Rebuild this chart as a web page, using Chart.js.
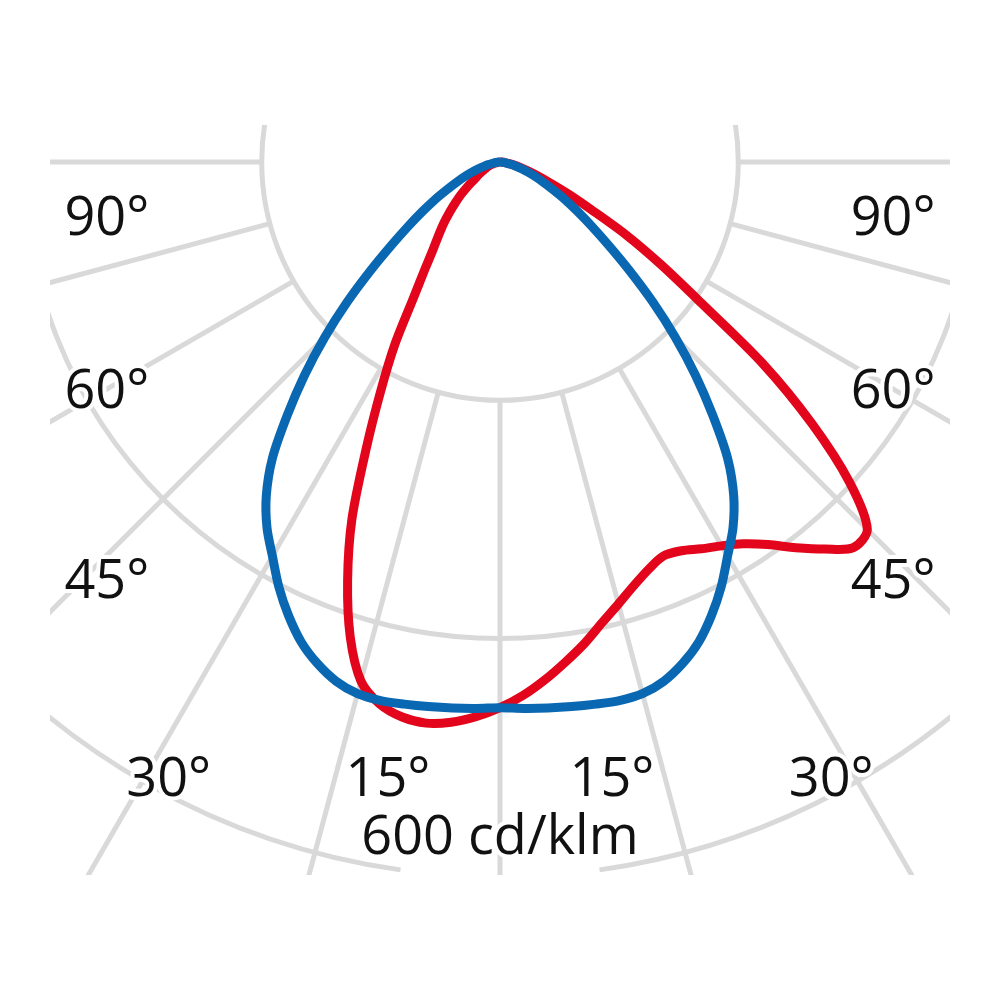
<!DOCTYPE html>
<html>
<head>
<meta charset="utf-8">
<script src="https://cdn.jsdelivr.net/npm/chart.js@4.4.0/dist/chart.umd.min.js"></script>
<style>
  html, body { margin: 0; padding: 0; background: #fff; }
  #wrap { width: 1000px; height: 1000px; }
</style>
</head>
<body>
<div id="wrap"><canvas id="ldc"></canvas></div>
<script>
// gamma angles (deg from nadir), negative = left half
const angles = [
  -90, -87.5, -85, -82.5, -80, -77.5, -75, -72.5, -70, -67.5, -65, -62.5,
  -60, -57.5, -55, -52.5, -50, -47.5, -45, -42.5, -40, -37.5, -35, -32.5,
  -30, -27.5, -25, -22.5, -20, -17.5, -15, -12.5, -10, -7.5, -5, -2.5,
  0, 2.5, 5, 7.5, 10, 12.5, 15, 17.5, 20, 22.5, 25, 27.5,
  30, 32.5, 35, 37.5, 40, 42.5, 45, 47.5, 50, 52.5, 55, 57.5,
  60, 62.5, 65, 67.5, 70, 72.5, 75, 77.5, 80, 82.5, 85, 87.5, 90
];

// cd/klm, symmetric plane (blue)
const bluePlane = [
  0, 1, 2, 4, 6, 10, 14, 19, 25, 32, 40, 50,
  63, 77, 94, 115, 142, 174, 208, 243, 278, 314, 342, 364,
  382, 402, 420, 436, 448, 457, 462, 463, 462, 461, 460, 459,
  458, 459, 460, 461, 462, 463, 462, 457, 448, 436, 420, 402,
  382, 364, 342, 314, 278, 243, 208, 174, 142, 115, 94, 77,
  63, 50, 40, 32, 25, 19, 14, 10, 6, 4, 2, 1, 0
];

// cd/klm, asymmetric plane (red)
const redPlane = [
  0, 0, 1, 2, 3, 5, 6, 8, 10, 12, 14, 17,
  20, 23, 28, 35, 43, 51, 60, 70, 80, 92, 110, 135,
  176, 217, 266, 325, 374, 418, 451, 466, 473, 475, 472, 466,
  458, 448, 436, 423, 410, 396, 384, 373, 364, 358, 360, 366,
  372, 380, 392, 408, 424, 439, 436, 398, 342, 278, 206, 160,
  122, 86, 63, 45, 33, 24, 17, 12, 8, 5, 3, 1, 0
];

const rings = [200, 400, 600];
const spokes = [0, 15, 30, 45, 60, 75, 90, 105, 120, 135, 150, 165,
                180, 195, 210, 225, 240, 255, 270, 285, 300, 315, 330, 345];
const angleLabels = ['90°', '60°', '45°', '30°', '15°'];
const unitLabel = '600 cd/klm';

// label centres in cd/klm coordinates (right side, mirrored for left)
const labelSpots = [[330, -45], [330, -190], [330, -350], [278, -516], [94, -516]];
const unitSpot = [0, -565];

function toXY(vals) {
  return angles.map((g, i) => {
    const a = g * Math.PI / 180;
    return { x: vals[i] * Math.sin(a), y: -vals[i] * Math.cos(a) };
  });
}

const polarGrid = {
  id: 'polarGrid',
  beforeDatasetsDraw(chart) {
    const { ctx, chartArea: a, scales: { x, y } } = chart;
    const cx = x.getPixelForValue(0), cy = y.getPixelForValue(0);
    const unit = x.getPixelForValue(1) - cx;
    ctx.save();
    ctx.beginPath();
    ctx.rect(a.left, a.top, a.right - a.left, a.bottom - a.top);
    ctx.clip();
    ctx.strokeStyle = '#d9d9d9';
    ctx.lineWidth = 5;

    const r0 = rings[0] * unit;
    spokes.forEach(g => {
      const t = g * Math.PI / 180;
      ctx.beginPath();
      ctx.moveTo(cx + r0 * Math.sin(t), cy + r0 * Math.cos(t));
      ctx.lineTo(cx + 2000 * Math.sin(t), cy + 2000 * Math.cos(t));
      ctx.stroke();
    });

    rings.forEach((v, i) => {
      ctx.beginPath();
      if (i === rings.length - 1) {
        // leave room for the unit label at the bottom
        ctx.arc(cx, cy, v * unit, (90 + 8) * Math.PI / 180, (90 - 8 + 360) * Math.PI / 180);
      } else {
        ctx.arc(cx, cy, v * unit, 0, Math.PI * 2);
      }
      ctx.stroke();
    });

    // labels with a white halo
    const size = 54;
    ctx.font = size + 'px "Open Sans"';
    ctx.textAlign = 'center';
    ctx.textBaseline = 'alphabetic';
    ctx.lineJoin = 'round';
    const put = (txt, vx, vy) => {
      const px = x.getPixelForValue(vx);
      const py = y.getPixelForValue(vy) + size * 0.356;
      ctx.strokeStyle = '#fff';
      ctx.lineWidth = 8;
      ctx.strokeText(txt, px, py);
      ctx.fillStyle = '#111';
      ctx.fillText(txt, px, py);
    };
    angleLabels.forEach((txt, i) => {
      put(txt, labelSpots[i][0], labelSpots[i][1]);
      put(txt, -labelSpots[i][0], labelSpots[i][1]);
    });
    put(unitLabel, unitSpot[0], unitSpot[1]);
    ctx.restore();
  }
};

new Chart(document.getElementById('ldc'), {
  type: 'scatter',
  data: {
    datasets: [
      {
        data: toXY(bluePlane),
        showLine: true,
        borderColor: '#0a68b2',
        borderWidth: 9,
        pointRadius: 0,
        tension: 0.3
      },
      {
        data: toXY(redPlane),
        showLine: true,
        borderColor: '#e2051b',
        borderWidth: 9,
        pointRadius: 0,
        tension: 0.3
      }
    ]
  },
  options: {
    responsive: true,
    maintainAspectRatio: false,
    animation: false,
    layout: { padding: { left: 50, right: 50, top: 125, bottom: 125 } },
    plugins: { legend: { display: false }, tooltip: { enabled: false } },
    scales: {
      x: { type: 'linear', min: -377.7, max: 377.7, display: false },
      y: { type: 'linear', min: -598.4, max: 31.05, display: false }
    }
  },
  plugins: [polarGrid]
});
</script>
</body>
</html>
